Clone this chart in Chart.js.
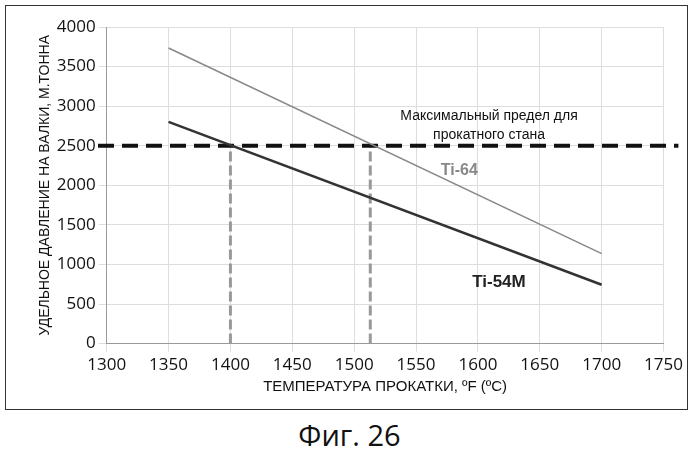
<!DOCTYPE html><html><head><meta charset="utf-8">
<script src="https://cdn.jsdelivr.net/npm/chart.js@4"></script>
<style>body{margin:0;background:#fff;font-family:"Liberation Sans",Arial,sans-serif}
#box{position:absolute;left:5px;top:5px;width:683px;height:405px;border:1.5px solid #333;box-sizing:border-box}
#c{position:absolute;left:0;top:0}
#cap{position:absolute;top:418px;left:0;width:699px;text-align:center;font-family:"Open Sans",sans-serif;font-size:29px;line-height:34px;color:#111}</style></head><body>
<div id="box"><canvas id="c" width="680" height="402"></canvas></div><div id="cap">Фиг. 26</div>
<script>
const temps=[1350,1700];
const ti64=[3735,1136];
const ti54m=[2801,744];
const limit=2500;
const limitX=[1293,1762];
const crossX=[1400,1513];
const xTicks=[1300,1350,1400,1450,1500,1550,1600,1650,1700,1750];
const labels=[
 {x:1609,y:2880,t:"Максимальный предел для",c:"#111",f:"14px 'Liberation Sans'"},
 {x:1609,y:2640,t:"прокатного стана",c:"#111",f:"14px 'Liberation Sans'"},
 {x:1585,y:2180,t:"Ti-64",c:"#888",f:"bold 16px 'Liberation Sans'"},
 {x:1617,y:770,t:"Ti-54M",c:"#222",f:"bold 17px 'Liberation Sans'"}];
const pts=(xs,ys)=>xs.map((x,i)=>({x,y:ys[i]}));
const ds=[
 {data:pts(temps,ti64),borderColor:'#888',borderWidth:1.5},
 {data:pts(temps,ti54m),borderColor:'#333',borderWidth:2.5},
 {data:pts(limitX,[limit,limit]),borderColor:'#111',borderWidth:4,borderDash:[16,8],clip:false},
 ...crossX.map(x=>({data:pts([x,x],[0,limit]),borderColor:'#999',borderWidth:3,borderDash:[10,4]}))
].map(d=>Object.assign({pointRadius:0,fill:false},d));
const txt={id:'txt',afterDatasetsDraw(ch){const c=ch.ctx,x=ch.scales.x,y=ch.scales.y;c.save();c.textAlign='center';c.textBaseline='middle';
labels.forEach(l=>{c.font=l.f;c.fillStyle=l.c;c.fillText(l.t,x.getPixelForValue(l.x),y.getPixelForValue(l.y));});c.restore();}};
new Chart(document.getElementById('c'),{type:'line',data:{datasets:ds},plugins:[txt],
options:{responsive:false,animation:false,devicePixelRatio:1,layout:{padding:{left:27,right:10,top:21,bottom:8}},
plugins:{legend:{display:false},tooltip:{enabled:false}},
scales:{x:{type:'linear',min:1300,max:1750,afterBuildTicks:a=>{a.ticks=xTicks.map(v=>({value:v}))},
 ticks:{color:'#111',font:{size:17,family:'Open Sans'},maxRotation:0,autoSkip:false,callback:v=>String(v)},grid:{color:'#ddd'},border:{color:'#999'},
 title:{display:true,text:'ТЕМПЕРАТУРА ПРОКАТКИ, ºF (ºC)',color:'#111',font:{size:15,family:'Liberation Sans'},padding:{top:0}}},
y:{min:0,max:4000,ticks:{stepSize:500,color:'#111',font:{size:17,family:'Open Sans'},callback:v=>String(v)},grid:{color:'#ddd'},border:{color:'#999'},
 title:{display:true,text:'УДЕЛЬНОЕ ДАВЛЕНИЕ НА ВАЛКИ, М.ТОННА',color:'#111',font:{size:14,family:'Liberation Sans'},padding:{bottom:0}}}}}});
</script></body></html>
